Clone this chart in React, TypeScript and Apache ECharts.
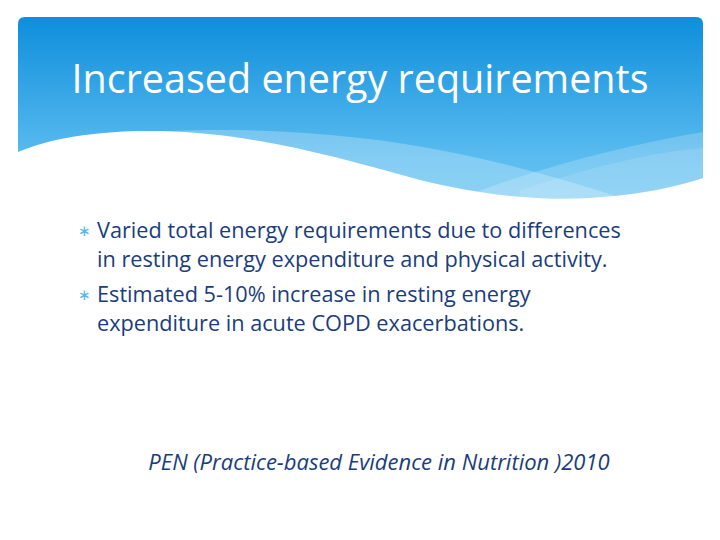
import React, { useRef, useEffect } from "react";
import * as echarts from "echarts";

const title = "Increased energy requirements";
const bullets = [
  ["Varied total energy requirements due to differences", "in resting energy expenditure and physical activity."],
  ["Estimated 5-10% increase in resting energy", "expenditure in acute COPD exacerbations."],
];
const citation = "PEN (Practice-based Evidence in Nutrition )2010";

const FONT = "'Open Sans', Lato, sans-serif";
const NAVY = "#1b3d7c";

// header shape: rounded top, wavy bottom
const headerD =
  "M18,24 Q18,17 25,17 L696,17 Q703,17 703,24 L703,220 L18,220 Z";
const whiteD =
  "M10,152 L18,152 C50,138 100,130 160,131 C250,133 330,155 420,180 C480,195 540,201 590,198 C640,195 680,186 703,178 L712,178 L712,230 L10,230 Z";
const band1D =
  "M150,132 C260,126 360,134 450,152 C520,166 580,184 640,204 L640,230 L150,230 Z";
const band2D = "M430,210 C520,172 620,146 703,132 L703,230 L430,230 Z";
const band3D = "M520,190 C590,168 650,152 703,148 L703,230 L520,230 Z";

echarts.graphic.registerShape("hdr", echarts.graphic.extendPath(headerD, {}));
echarts.graphic.registerShape("wht", echarts.graphic.extendPath(whiteD, {}));
echarts.graphic.registerShape("bnd1", echarts.graphic.extendPath(band1D, {}));
echarts.graphic.registerShape("bnd2", echarts.graphic.extendPath(band2D, {}));
echarts.graphic.registerShape("bnd3", echarts.graphic.extendPath(band3D, {}));

const App = () => {
  const chartRef = useRef(null);

  useEffect(() => {
    const myChart = echarts.init(chartRef.current, null, { renderer: "svg" });

    const textEls: any[] = [];
    let y = 229;
    bullets.forEach((lines) => {
      textEls.push({
        type: "text",
        x: 78,
        y: y + 1,
        style: { text: "\u2217", fill: "#4fb6ea", font: "15px " + FONT, textVerticalAlign: "middle" },
      });
      lines.forEach((line) => {
        textEls.push({
          type: "text",
          x: 97,
          y: y,
          style: { text: line, fill: NAVY, font: "21.7px " + FONT, textVerticalAlign: "middle" },
        });
        y += 29;
      });
      y += 6;
    });

    const option = {
      animation: false,
      graphic: [
        {
          type: "hdr",
          style: {
            fill: new echarts.graphic.LinearGradient(0, 0, 0, 1, [
              { offset: 0, color: "#0e8edb" },
              { offset: 0.7, color: "#5bbcf0" },
              { offset: 1, color: "#6cc6f3" },
            ]),
          },
        },
        { type: "bnd1", style: { fill: "rgba(255,255,255,0.25)" } },
        { type: "bnd2", style: { fill: "rgba(255,255,255,0.2)" } },
        { type: "bnd3", style: { fill: "rgba(255,255,255,0.12)" } },
        { type: "wht", style: { fill: "#ffffff" } },
        {
          type: "text",
          x: 360,
          y: 78,
          style: {
            text: title,
            fill: "#ffffff",
            font: "39.5px " + FONT,
            textAlign: "center",
            textVerticalAlign: "middle",
          },
        },
        ...textEls,
        {
          type: "text",
          x: 379,
          y: 461,
          style: {
            text: citation,
            fill: NAVY,
            font: "italic 22px " + FONT,
            textAlign: "center",
            textVerticalAlign: "middle",
          },
        },
      ],
    };

    myChart.setOption(option);

    return () => {
      myChart.dispose();
    };
  }, []);

  return (
    <div
      ref={chartRef}
      style={{ position: "absolute", left: 0, top: 0, width: "720px", height: "540px", background: "#fff" }}
    />
  );
};

export default App;
